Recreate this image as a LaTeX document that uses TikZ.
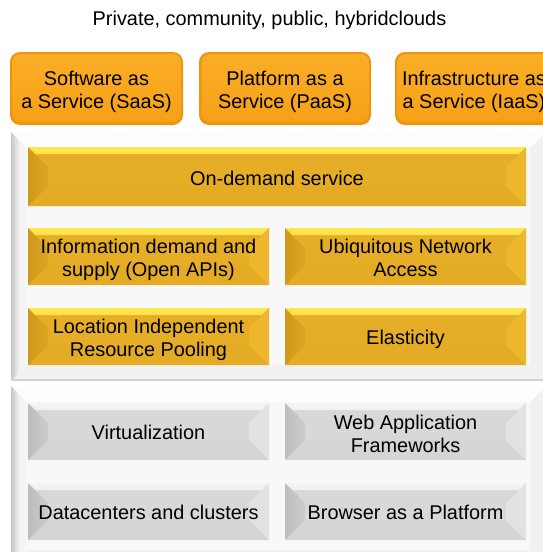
\documentclass[tikz,border=0pt]{standalone}
\usepackage{fontspec}
\setmainfont{Liberation Sans}
\usetikzlibrary{calc}
\definecolor{gbase}{HTML}{E6AE27}
\definecolor{gtop}{HTML}{FFE84C}
\definecolor{gleft}{HTML}{D0991C}
\definecolor{gright}{HTML}{EDB62C}
\definecolor{gbot}{HTML}{E4AB25}
\definecolor{sbase}{HTML}{D8D8D8}
\definecolor{stop}{HTML}{F4F4F4}
\definecolor{sleft}{HTML}{BDBDBD}
\definecolor{sright}{HTML}{E2E2E2}
\definecolor{sbot}{HTML}{D5D5D5}
\definecolor{pbase}{HTML}{F8F8F8}
\definecolor{ptop}{HTML}{FDFDFD}
\definecolor{pleft}{HTML}{C8C8C8}
\definecolor{pright}{HTML}{F1F1F1}
\definecolor{pbot}{HTML}{F1F1F1}
\definecolor{pline}{HTML}{D2D2D2}
\definecolor{oring}{HTML}{EE9410}
\definecolor{otop}{HTML}{FAAE26}
\definecolor{obot}{HTML}{F6A116}
\tikzset{
  txt/.style={font=\fontsize{19.9}{23}\selectfont, text=black, align=center},
  boxtext/.style n args={2}{label={[txt,yshift=-#1pt]center:{#2}}},
  bevelbox/.style n args={6}{rectangle, inner sep=0pt, fill=#2,
    path picture={
      \shade[top color=#3, bottom color=#2] let \p1=(path picture bounding box.north west), \p2=(path picture bounding box.south east) in
        (\x1,\y1) -- (\x2,\y1) -- (\x2-7pt,\y1-7pt) -- (\x1+7pt,\y1-7pt) -- cycle;
      \fill[#6] let \p1=(path picture bounding box.north west), \p2=(path picture bounding box.south east) in
        (\x1,\y2) -- (\x2,\y2) -- (\x2-#1pt,\y2+#1pt) -- (\x1+#1pt,\y2+#1pt) -- cycle;
      \shade[left color=#4, right color=#4!45!#2] let \p1=(path picture bounding box.north west), \p2=(path picture bounding box.south east) in
        (\x1,\y1) -- (\x1+#1pt,\y1-#1pt) -- (\x1+#1pt,\y2+#1pt) -- (\x1,\y2) -- cycle;
      \fill[#5] let \p1=(path picture bounding box.north west), \p2=(path picture bounding box.south east) in
        (\x2,\y1) -- (\x2-#1pt,\y1-#1pt) -- (\x2-#1pt,\y2+#1pt) -- (\x2,\y2) -- cycle;
    }},
  goldbox/.style={bevelbox={20}{gbase}{gtop}{gleft}{gright}{gbot}},
  graybox/.style={bevelbox={20}{sbase}{stop}{sleft}{sright}{sbot}},
  panelbox/.style={rectangle, inner sep=0pt, fill=pbase,
    path picture={
      \fill[ptop] let \p1=(path picture bounding box.north west), \p2=(path picture bounding box.south east) in
        (\x1,\y1) -- (\x2,\y1) -- (\x2-16pt,\y1-16pt) -- (\x1+16pt,\y1-16pt) -- cycle;
      \fill[pbot] let \p1=(path picture bounding box.north west), \p2=(path picture bounding box.south east) in
        (\x1,\y2) -- (\x2,\y2) -- (\x2-16pt,\y2+16pt) -- (\x1+16pt,\y2+16pt) -- cycle;
      \shade[left color=pleft, right color=pbase, middle color=pright] let \p1=(path picture bounding box.north west), \p2=(path picture bounding box.south east) in
        (\x1,\y1) -- (\x1+16pt,\y1-16pt) -- (\x1+16pt,\y2+16pt) -- (\x1,\y2) -- cycle;
      \fill[pright] let \p1=(path picture bounding box.north west), \p2=(path picture bounding box.south east) in
        (\x2,\y1) -- (\x2-16pt,\y1-16pt) -- (\x2-16pt,\y2+16pt) -- (\x2,\y2) -- cycle;
      \fill[pline] let \p1=(path picture bounding box.north west), \p2=(path picture bounding box.south east) in
        (\x1,\y2) rectangle (\x2,\y2+2.5pt);
    }},
  servbox/.style={rectangle, rounded corners=10pt, inner sep=0pt, fill=oring,
    minimum width=#1, minimum height=73pt,
    path picture={
      \shade[rounded corners=8pt, top color=otop, bottom color=obot] let \p1=(path picture bounding box.north west), \p2=(path picture bounding box.south east) in
        (\x1+2.5pt,\y1-2pt) rectangle (\x2-2pt,\y2+3pt);
    }}
}
\begin{document}
\begin{tikzpicture}[x=1pt,y=-1pt]
\useasboundingbox (0,0) rectangle (543,552);
\fill[white] (0,0) rectangle (543,552);
\clip (0,0) rectangle (543,552);
% title
\node[txt, anchor=base] (title) at (269.5,25) {Private, community, public, hybridclouds};
% service models
\node[servbox=173pt, boxtext={3.5}{Software as\\a Service (SaaS)}] (saas) at (96.5,88.5) {};
\node[servbox=172pt, boxtext={3.5}{Platform as a\\Service (PaaS)}] (paas) at (285,88.5) {};
\node[servbox=158pt, boxtext={3.5}{Infrastructure as\\a Service (IaaS)}] (iaas) at (474,88.5) {};
% panels
\node[panelbox, minimum width=535pt, minimum height=249pt] (panelA) at (278.5,256.5) {};
\node[panelbox, minimum width=535pt, minimum height=180pt] (panelB) at (278.5,476) {};
% characteristics
\node[goldbox, minimum width=498pt, minimum height=59pt, boxtext={1.5}{On-demand service}] (ondemand) at (277,176.5) {};
\node[goldbox, minimum width=241pt, minimum height=57pt, boxtext={3}{Information demand and\\supply (Open APIs)}] (info) at (148.5,256.5) {};
\node[goldbox, minimum width=241pt, minimum height=57pt, boxtext={1}{Ubiquitous Network\\Access}] (ubiq) at (405.5,256.5) {};
\node[goldbox, minimum width=241pt, minimum height=57pt, boxtext={3}{Location Independent\\Resource Pooling}] (loc) at (148.5,336.5) {};
\node[goldbox, minimum width=241pt, minimum height=57pt, boxtext={2.5}{Elasticity}] (elast) at (405.5,336.5) {};
% technologies
\node[graybox, minimum width=241pt, minimum height=57pt, boxtext={1}{Virtualization}] (virt) at (148.5,431.5) {};
\node[graybox, minimum width=241pt, minimum height=57pt, boxtext={2.2}{Web Application\\Frameworks}] (webapp) at (405.5,431.5) {};
\node[graybox, minimum width=241pt, minimum height=57pt, boxtext={1}{Datacenters and clusters}] (dc) at (148.5,511.5) {};
\node[graybox, minimum width=241pt, minimum height=57pt, boxtext={1}{Browser as a Platform}] (browser) at (405.5,511.5) {};
\end{tikzpicture}
\end{document}
